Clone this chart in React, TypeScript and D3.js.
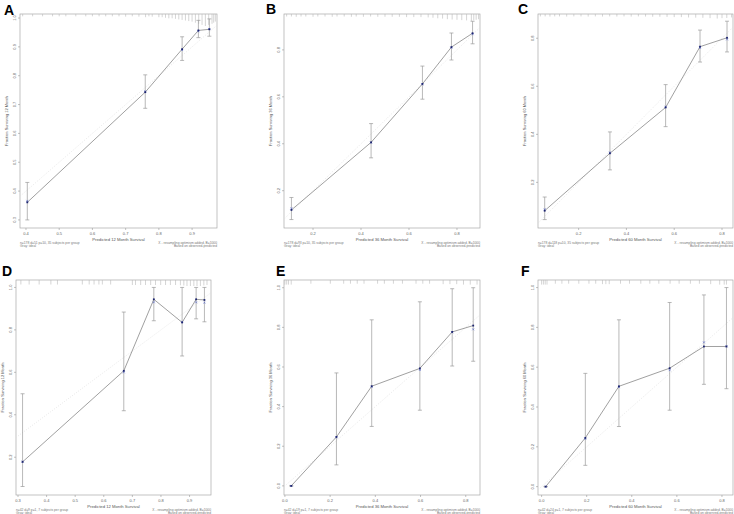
import React from 'react';
import * as d3 from 'd3';

// Calibration curves, one set per panel (predicted vs observed, 95% CI, bias-corrected)
const predA = [0.404, 0.759, 0.87, 0.919, 0.952];
const obsA = [0.361, 0.743, 0.892, 0.957, 0.961];
const loA = [0.3, 0.687, 0.853, 0.932, 0.937];
const hiA = [0.43, 0.803, 0.935, 0.992, 0.997];
const bcA = [0.366, 0.746, 0.889, 0.954, 0.962];

const predB = [0.11, 0.442, 0.656, 0.777, 0.865];
const obsB = [0.118, 0.406, 0.655, 0.812, 0.871];
const loB = [0.077, 0.34, 0.59, 0.757, 0.826];
const hiB = [0.171, 0.486, 0.731, 0.872, 0.922];
const bcB = [0.125, 0.405, 0.653, 0.809, 0.867];

const predC = [0.058, 0.331, 0.564, 0.708, 0.821];
const obsC = [0.082, 0.321, 0.512, 0.765, 0.802];
const loC = [0.045, 0.252, 0.432, 0.701, 0.743];
const hiC = [0.139, 0.41, 0.607, 0.834, 0.871];
const bcC = [0.088, 0.325, 0.515, 0.76, 0.795];

const predD = [0.316, 0.67, 0.775, 0.874, 0.923, 0.952];
const obsD = [0.178, 0.607, 0.944, 0.835, 0.944, 0.941];
const loD = [0.062, 0.419, 0.843, 0.677, 0.852, 0.838];
const hiD = [0.499, 0.884, 1.0, 1.0, 1.0, 1.0];
const bcD = [0.18, 0.6, 0.93, 0.838, 0.93, 0.928];

const predE = [0.028, 0.228, 0.384, 0.597, 0.74, 0.833];
const obsE = [0.0, 0.247, 0.503, 0.593, 0.777, 0.809];
const loE = [0.0, 0.106, 0.3, 0.382, 0.605, 0.629];
const hiE = [0.0, 0.57, 0.838, 0.929, 0.995, 1.0];
const bcE = [0.0, 0.245, 0.5, 0.585, 0.775, 0.79];

const predF = [0.018, 0.194, 0.343, 0.568, 0.72, 0.82];
const obsF = [0.0, 0.245, 0.504, 0.595, 0.704, 0.704];
const loF = [0.0, 0.107, 0.302, 0.384, 0.514, 0.492];
const hiF = [0.0, 0.569, 0.838, 0.925, 0.963, 1.0];
const bcF = [0.0, 0.24, 0.5, 0.585, 0.725, 0.705];

// spike histograms of predicted values [value, relative frequency]
const rugA: [number, number][] = [
  [0.39, 0.12], [0.42, 0.12], [0.45, 0.12], [0.48, 0.12], [0.5, 0.12], [0.52, 0.12], [0.55, 0.12],
  [0.58, 0.12], [0.6, 0.12], [0.62, 0.12], [0.64, 0.12], [0.66, 0.12], [0.68, 0.12], [0.7, 0.15],
  [0.72, 0.12], [0.74, 0.15], [0.76, 0.2], [0.77, 0.12], [0.78, 0.15], [0.8, 0.2], [0.81, 0.2],
  [0.82, 0.25], [0.83, 0.3], [0.84, 0.3], [0.85, 0.35], [0.86, 0.4], [0.87, 0.45], [0.88, 0.5],
  [0.89, 0.55], [0.9, 0.6], [0.91, 0.7], [0.92, 0.8], [0.93, 0.9], [0.94, 1.0], [0.95, 0.9],
  [0.96, 0.8], [0.965, 0.7], [0.97, 0.6],
];
const rugB: [number, number][] = [
  [0.09, 0.25], [0.11, 0.25], [0.13, 0.3], [0.15, 0.25], [0.17, 0.25], [0.2, 0.3], [0.22, 0.25],
  [0.25, 0.25], [0.28, 0.3], [0.3, 0.25], [0.33, 0.25], [0.36, 0.3], [0.38, 0.25], [0.41, 0.3],
  [0.44, 0.25], [0.47, 0.3], [0.5, 0.3], [0.53, 0.3], [0.56, 0.3], [0.59, 0.35], [0.62, 0.35],
  [0.65, 0.35], [0.68, 0.4], [0.7, 0.45], [0.72, 0.55], [0.74, 0.6], [0.76, 0.7], [0.78, 0.75],
  [0.8, 0.8], [0.82, 0.85], [0.84, 0.9], [0.86, 1.0], [0.87, 0.9], [0.88, 0.8], [0.89, 0.7],
];
const rugC: [number, number][] = [
  [0.04, 0.4], [0.06, 0.4], [0.08, 0.45], [0.1, 0.4], [0.12, 0.4], [0.15, 0.45], [0.18, 0.4],
  [0.21, 0.4], [0.24, 0.45], [0.27, 0.4], [0.3, 0.45], [0.33, 0.4], [0.36, 0.45], [0.39, 0.4],
  [0.42, 0.45], [0.45, 0.4], [0.48, 0.45], [0.51, 0.5], [0.54, 0.5], [0.57, 0.55], [0.6, 0.6],
  [0.63, 0.6], [0.66, 0.7], [0.69, 0.75], [0.72, 0.8], [0.75, 0.9], [0.78, 1.0], [0.8, 0.9],
  [0.82, 0.85], [0.84, 0.7],
];
const rugD: [number, number][] = [
  [0.31, 0.7], [0.339, 0.7], [0.374, 0.7], [0.415, 0.7], [0.438, 0.7], [0.525, 0.7], [0.549, 0.7],
  [0.566, 0.7], [0.583, 0.7], [0.595, 0.7], [0.624, 0.7], [0.7, 0.8], [0.711, 0.8], [0.729, 0.8],
  [0.746, 0.8], [0.764, 0.8], [0.781, 0.8], [0.799, 0.8], [0.816, 0.8], [0.833, 0.8], [0.851, 0.8],
  [0.868, 0.85], [0.88, 0.9], [0.891, 1.0], [0.903, 1.0], [0.915, 1.0], [0.926, 1.0], [0.938, 1.0],
  [0.95, 0.9], [0.961, 0.8],
];
const rugE: [number, number][] = [
  [0.0, 0.8], [0.008, 0.8], [0.016, 0.8], [0.028, 0.8], [0.115, 0.6], [0.201, 0.6], [0.26, 0.6],
  [0.29, 0.6], [0.32, 0.6], [0.35, 0.6], [0.41, 0.6], [0.44, 0.6], [0.48, 0.6], [0.52, 0.6],
  [0.58, 0.6], [0.61, 0.6], [0.64, 0.6], [0.7, 0.7], [0.73, 0.7], [0.76, 0.7], [0.79, 0.8],
  [0.82, 0.8], [0.85, 0.8],
];
const rugF: [number, number][] = [
  [0.0, 0.8], [0.008, 0.8], [0.016, 0.8], [0.024, 0.8], [0.061, 0.6], [0.09, 0.6], [0.12, 0.6],
  [0.165, 0.6], [0.21, 0.6], [0.24, 0.6], [0.27, 0.7], [0.285, 0.7], [0.3, 0.7], [0.35, 0.6],
  [0.39, 0.6], [0.44, 0.6], [0.48, 0.6], [0.52, 0.6], [0.57, 0.6], [0.61, 0.6], [0.66, 0.6],
  [0.7, 0.6], [0.75, 0.7], [0.79, 0.8], [0.81, 0.8], [0.82, 0.8],
];

const letters = ['A', 'B', 'C', 'D', 'E', 'F'];
const months = [12, 36, 60, 12, 36, 60];
const notesLeft = [
  'n=178 d=51 p=10, 35 subjects per group',
  'n=178 d=93 p=10, 35 subjects per group',
  'n=178 d=118 p=10, 35 subjects per group',
  'n=42 d=9 p=1, 7 subjects per group',
  'n=42 d=19 p=1, 7 subjects per group',
  'n=42 d=24 p=1, 7 subjects per group',
];
const noteRight1 = 'X - resampling optimism added, B=1000';
const noteRight2 = 'Based on observed-predicted';

const xTicksA = [0.4, 0.5, 0.6, 0.7, 0.8, 0.9];
const yTicksA = [0.3, 0.4, 0.5, 0.6, 0.7, 0.8, 0.9, 1.0];
const ticksBC = [0.2, 0.4, 0.6, 0.8];
const xTicksD = [0.3, 0.4, 0.5, 0.6, 0.7, 0.8, 0.9];
const yTicksD = [0.2, 0.4, 0.6, 0.8, 1.0];
const ticksEF = [0.0, 0.2, 0.4, 0.6, 0.8, 1.0];
const xTicksEF = [0.0, 0.2, 0.4, 0.6, 0.8];

const panels = [
  { pred: predA, obs: obsA, lo: loA, hi: hiA, bc: bcA, rug: rugA, xd: [0.382, 0.975], yd: [0.272, 1.014], xt: xTicksA, yt: yTicksA },
  { pred: predB, obs: obsB, lo: loB, hi: hiB, bc: bcB, rug: rugB, xd: [0.079, 0.896], yd: [0.041, 0.953], xt: ticksBC, yt: ticksBC },
  { pred: predC, obs: obsC, lo: loC, hi: hiC, bc: bcC, rug: rugC, xd: [0.03, 0.846], yd: [0.01, 0.901], xt: ticksBC, yt: ticksBC },
  { pred: predD, obs: obsD, lo: loD, hi: hiD, bc: bcD, rug: rugD, xd: [0.293, 0.975], yd: [0.022, 1.035], xt: xTicksD, yt: yTicksD },
  { pred: predE, obs: obsE, lo: loE, hi: hiE, bc: bcE, rug: rugE, xd: [-0.004, 0.863], yd: [-0.046, 1.039], xt: xTicksEF, yt: ticksEF },
  { pred: predF, obs: obsF, lo: loF, hi: hiF, bc: bcF, rug: rugF, xd: [-0.016, 0.849], yd: [-0.042, 1.038], xt: xTicksEF, yt: ticksEF },
];

// plot boxes in pixels: [left, right, top, bottom], plus letter anchor
const boxes = [
  { l: 20, r: 217, t: 14, b: 228, lx: 4, ly: 15, rugMax: 11 },
  { l: 284, r: 480, t: 14, b: 228, lx: 266, ly: 14, rugMax: 6 },
  { l: 538, r: 733, t: 14, b: 228, lx: 518, ly: 14, rugMax: 3.5 },
  { l: 16, r: 211, t: 280, b: 495, lx: 2, ly: 276, rugMax: 5 },
  { l: 284, r: 480, t: 280, b: 495, lx: 276, ly: 276, rugMax: 4.5 },
  { l: 538, r: 733, t: 280, b: 495, lx: 521, ly: 276, rugMax: 4.5 },
];

const FONT = '"Liberation Sans", Arial, Helvetica, sans-serif';
const fmt = d3.format('.1f');

function Panel({ i }: { i: number }) {
  const p = panels[i];
  const bx = boxes[i];
  const x = d3.scaleLinear().domain(p.xd).range([bx.l, bx.r]);
  const y = d3.scaleLinear().domain(p.yd).range([bx.b, bx.t]);
  const pts = p.pred.map((v, k) => [x(v), y(p.obs[k])] as [number, number]);
  const line = d3.line()(pts) || '';
  const lo = Math.max(p.xd[0], p.yd[0]);
  const hi = Math.min(p.xd[1], p.yd[1]);
  const clipId = `clip${i}`;
  const cx = (bx.l + bx.r) / 2;
  const cy = (bx.t + bx.b) / 2;
  return (
    <g>
      <defs>
        <clipPath id={clipId}>
          <rect x={bx.l} y={bx.t} width={bx.r - bx.l} height={bx.b - bx.t} />
        </clipPath>
      </defs>
      <text x={bx.lx} y={bx.ly} fontSize={14} fontWeight="bold" fontFamily={FONT} fill="#000">
        {letters[i]}
      </text>
      <rect x={bx.l} y={bx.t} width={bx.r - bx.l} height={bx.b - bx.t} fill="none" stroke="#a8a8a8" strokeWidth={0.7} />
      {/* spike histogram of predictions */}
      {p.rug.map(([v, f], k) => (
        <line key={k} x1={x(v)} x2={x(v)} y1={bx.t} y2={bx.t + 1 + f * bx.rugMax} stroke="#b8b8b8" strokeWidth={0.6} />
      ))}
      {/* ideal line */}
      <line x1={x(lo)} y1={y(lo)} x2={x(hi)} y2={y(hi)} stroke="#dedede" strokeWidth={0.7} strokeDasharray="1,1.5" clipPath={`url(#${clipId})`} />
      {/* x axis */}
      {p.xt.map(t => (
        <g key={t}>
          <line x1={x(t)} x2={x(t)} y1={bx.b} y2={bx.b + 2} stroke="#999" strokeWidth={0.6} />
          <text x={x(t)} y={bx.b + 6.5} fontSize={4} textAnchor="middle" fontFamily={FONT} fill="#666">{fmt(t)}</text>
        </g>
      ))}
      {/* y axis */}
      {p.yt.map(t => (
        <g key={t}>
          <line x1={bx.l - 2} x2={bx.l} y1={y(t)} y2={y(t)} stroke="#999" strokeWidth={0.6} />
          <text transform={`translate(${bx.l - 4},${y(t)}) rotate(-90)`} fontSize={4} textAnchor="middle" fontFamily={FONT} fill="#666">{fmt(t)}</text>
        </g>
      ))}
      <text x={cx} y={bx.b + 13} fontSize={4.2} textAnchor="middle" fontFamily={FONT} fill="#555">
        {`Predicted  ${months[i]} Month Survival`}
      </text>
      <text transform={`translate(${bx.l - 12},${cy}) rotate(-90)`} fontSize={4} textAnchor="middle" fontFamily={FONT} fill="#555">
        {`Fraction Surviving ${months[i]} Month`}
      </text>
      <text x={bx.l} y={bx.b + 15.5} fontSize={3.3} fontFamily={FONT} fill="#777">{notesLeft[i]}</text>
      <text x={bx.l} y={bx.b + 18.5} fontSize={3.3} fontFamily={FONT} fill="#777">Gray: ideal</text>
      <text x={bx.r} y={bx.b + 15.5} fontSize={3.3} textAnchor="end" fontFamily={FONT} fill="#777">{noteRight1}</text>
      <text x={bx.r} y={bx.b + 18.5} fontSize={3.3} textAnchor="end" fontFamily={FONT} fill="#777">{noteRight2}</text>
      {/* error bars */}
      {p.pred.map((v, k) => (
        <g key={k} stroke="#999" strokeWidth={0.7}>
          <line x1={x(v)} x2={x(v)} y1={y(p.lo[k])} y2={y(p.hi[k])} />
          <line x1={x(v) - 2} x2={x(v) + 2} y1={y(p.lo[k])} y2={y(p.lo[k])} />
          <line x1={x(v) - 2} x2={x(v) + 2} y1={y(p.hi[k])} y2={y(p.hi[k])} />
        </g>
      ))}
      <path d={line} fill="none" stroke="#777" strokeWidth={0.7} />
      {/* bias corrected X marks */}
      {p.pred.map((v, k) => (
        <g key={k} stroke="#4a5cc8" strokeWidth={0.5}>
          <line x1={x(v) - 1} x2={x(v) + 1} y1={y(p.bc[k]) - 1} y2={y(p.bc[k]) + 1} />
          <line x1={x(v) - 1} x2={x(v) + 1} y1={y(p.bc[k]) + 1} y2={y(p.bc[k]) - 1} />
        </g>
      ))}
      {pts.map(([px, py], k) => (
        <rect key={k} x={px - 0.9} y={py - 0.9} width={1.8} height={1.8} fill="#1c2470" />
      ))}
    </g>
  );
}

export default function App() {
  return (
    <svg
      width={734}
      height={514}
      viewBox="0 0 734 514"
      style={{ position: 'absolute', left: 0, top: 0, background: '#fff' }}
    >
      <rect width={734} height={514} fill="#fff" />
      {panels.map((_, i) => (
        <Panel key={i} i={i} />
      ))}
    </svg>
  );
}
